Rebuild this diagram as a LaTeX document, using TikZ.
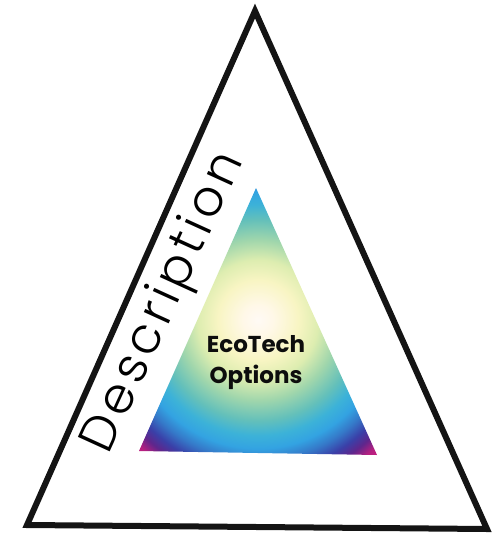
\documentclass[tikz,border=0pt]{standalone}
\usepackage{fontspec}
\setmainfont{Poppins}
\newfontfamily\descfont[LetterSpace=9]{Poppins Light}
\definecolor{g0}{RGB}{255,250,245}
\definecolor{g1}{RGB}{255,248,232}
\definecolor{g2}{RGB}{248,245,195}
\definecolor{g3}{RGB}{221,237,176}
\definecolor{g4}{RGB}{160,214,172}
\definecolor{g5}{RGB}{100,192,186}
\definecolor{g6}{RGB}{60,178,216}
\definecolor{g7}{RGB}{51,163,226}
\definecolor{g8}{RGB}{53,120,200}
\definecolor{g9}{RGB}{58,64,168}
\definecolor{g10}{RGB}{95,38,140}
\definecolor{g11}{RGB}{180,32,128}
\definecolor{g12}{RGB}{220,30,126}
\pgfdeclareradialshading{ecoshade}{\pgfpoint{0bp}{0bp}}{%
color(0bp)=(g0); color(15bp)=(g1); color(40bp)=(g2); color(60bp)=(g3);
color(80bp)=(g4); color(100bp)=(g5); color(115bp)=(g6); color(128bp)=(g7);
color(140bp)=(g8); color(152bp)=(g9); color(162bp)=(g10); color(172bp)=(g11);
color(190bp)=(g12)}
\tikzset{
  outertri/.style={draw=black!92, line width=6pt, line join=miter},
  desclabel/.style={font=\descfont\fontsize{50}{52}\selectfont, inner sep=0pt, anchor=base, rotate=65.5},
  ecolabel/.style={font=\bfseries\fontsize{23}{31}\selectfont, align=center, inner sep=0pt, text=black!95}
}
\begin{document}
\begin{tikzpicture}[x=1pt,y=-1pt]
\useasboundingbox (0,0) rectangle (499,539);
\coordinate (oA) at (255,11);
\coordinate (oL) at (27,525);
\coordinate (oR) at (487,529);
\coordinate (iA) at (256,188);
\coordinate (iL) at (139,451);
\coordinate (iR) at (377,455);
\coordinate (ic) at (258,320);
\draw[outertri] (oA) -- (oL) -- (oR) -- cycle;
\begin{scope}
  \clip (iA) -- (iL) -- (iR) -- cycle;
  \node[inner sep=0pt, outer sep=0pt] (grad) at (ic) {\pgfuseshading{ecoshade}};
\end{scope}
\node[desclabel] (desc) at (176,308) {Description};
\node[ecolabel] (eco) at (256,363) {EcoTech\\Options};
\end{tikzpicture}
\end{document}
